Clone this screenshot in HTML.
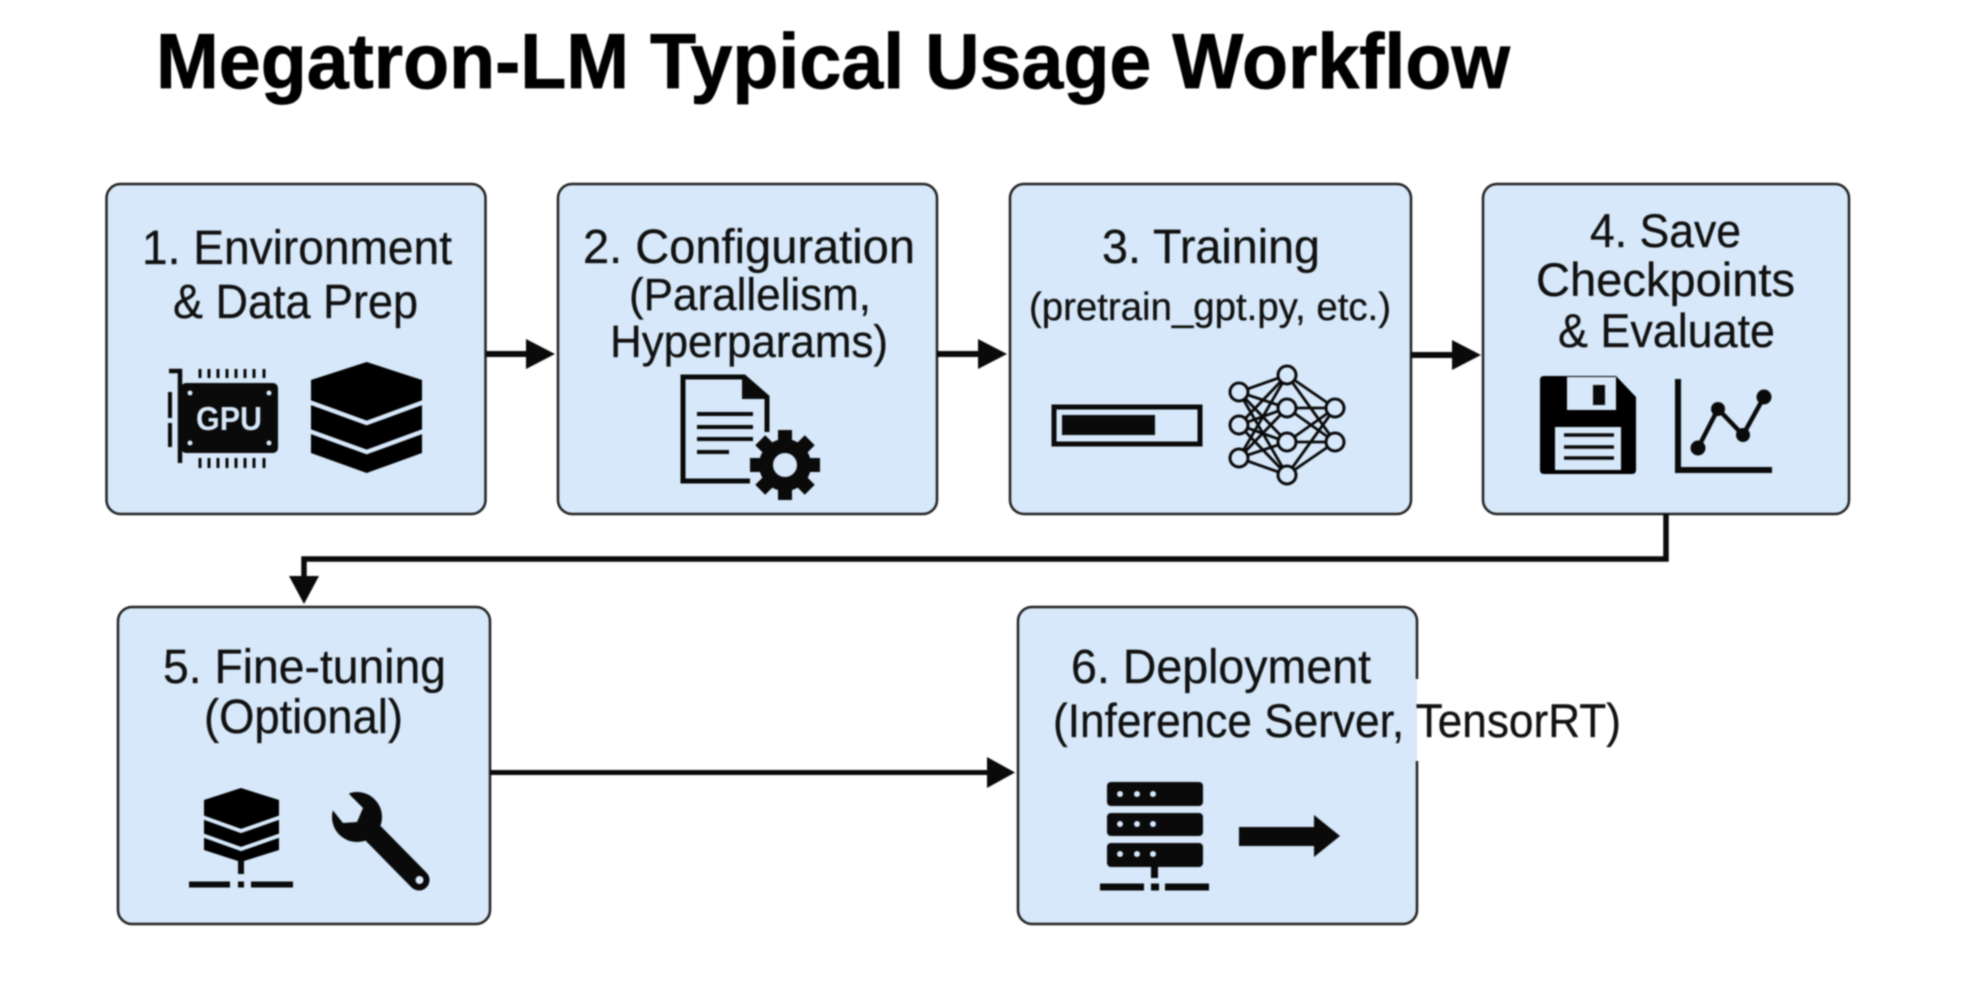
<!DOCTYPE html>
<html><head><meta charset="utf-8"><title>Megatron-LM Typical Usage Workflow</title>
<style>
html,body{margin:0;padding:0;background:#fff;width:1964px;height:984px;overflow:hidden}
svg{display:block}
text{font-family:"Liberation Sans",sans-serif;fill:#111}
.b{fill:#d6e8f9;stroke:#222;stroke-width:2.5}
.l{fill:none;stroke:#0a0a0a;stroke-linejoin:miter}
</style></head><body>
<svg xmlns="http://www.w3.org/2000/svg" width="1964" height="984" viewBox="0 0 1964 984" style="filter:blur(0.7px)">
<rect width="1964" height="984" fill="#fff"/>
<text x="156" y="88" font-size="78" font-weight="700" textLength="1354" lengthAdjust="spacingAndGlyphs" style="fill:#000;stroke:#000;stroke-width:0.8">Megatron-LM Typical Usage Workflow</text>

<!-- boxes -->
<rect class="b" x="106.5" y="184" width="379" height="330" rx="14"/>
<rect class="b" x="558" y="184" width="379" height="330" rx="14"/>
<rect class="b" x="1010" y="184" width="401" height="330" rx="14"/>
<rect class="b" x="1483" y="184" width="366" height="330" rx="14"/>
<rect class="b" x="118" y="607" width="372" height="317" rx="14"/>
<rect class="b" x="1018" y="607" width="399" height="317" rx="14"/>
<rect x="1416" y="679" width="4" height="82" fill="#fff"/>
<rect x="1410" y="679" width="7" height="82" fill="#d6e8f9"/>

<!-- connectors -->
<g fill="#0a0a0a">
<rect x="486" y="351" width="42" height="6"/><polygon points="526,339 555,354 526,369"/>
<rect x="937" y="351" width="43" height="6"/><polygon points="978,339 1007,354 978,369"/>
<rect x="1411" y="352" width="43" height="6"/><polygon points="1452,340 1481,355 1452,370"/>
<polyline class="l" stroke-width="5.500" points="1666,514 1666,559 304,559 304,580"/>
<polygon points="289,576 319,576 304,604"/>
<rect x="490" y="770" width="499" height="5"/><polygon points="987,757 1015,772.500 987,788"/>
</g>

<!-- labels -->
<g style="stroke:#111;stroke-width:0.3">
<text x="142" y="264" font-size="48" textLength="310" lengthAdjust="spacingAndGlyphs">1. Environment</text>
<text x="173" y="318" font-size="48" textLength="245" lengthAdjust="spacingAndGlyphs">&amp; Data Prep</text>
<text x="583" y="263" font-size="48" textLength="332" lengthAdjust="spacingAndGlyphs">2. Configuration</text>
<text x="629" y="310" font-size="45" textLength="242" lengthAdjust="spacingAndGlyphs">(Parallelism,</text>
<text x="610" y="357" font-size="45" textLength="278" lengthAdjust="spacingAndGlyphs">Hyperparams)</text>
<text x="1102" y="263" font-size="48" textLength="218" lengthAdjust="spacingAndGlyphs">3. Training</text>
<text x="1029" y="320" font-size="39" textLength="362" lengthAdjust="spacingAndGlyphs">(pretrain_gpt.py, etc.)</text>
<text x="1590" y="247" font-size="47" textLength="151" lengthAdjust="spacingAndGlyphs">4. Save</text>
<text x="1536" y="296" font-size="47" textLength="259" lengthAdjust="spacingAndGlyphs">Checkpoints</text>
<text x="1558" y="347" font-size="47" textLength="217" lengthAdjust="spacingAndGlyphs">&amp; Evaluate</text>
<text x="163" y="683" font-size="48" textLength="283" lengthAdjust="spacingAndGlyphs">5. Fine-tuning</text>
<text x="204" y="733" font-size="48" textLength="199" lengthAdjust="spacingAndGlyphs">(Optional)</text>
<text x="1071" y="683" font-size="48" textLength="300" lengthAdjust="spacingAndGlyphs">6. Deployment</text>
<text x="1053" y="737" font-size="47" textLength="568" lengthAdjust="spacingAndGlyphs">(Inference Server, TensorRT)</text>
</g>

<!-- GPU icon -->
<polyline class="l" stroke-width="4.500" points="169,371 180,371 180,463"/>
<rect x="168" y="392" width="4" height="26" fill="#0a0a0a"/>
<rect x="168" y="423" width="4" height="24" fill="#0a0a0a"/>
<rect x="181" y="383" width="97" height="70" rx="5" fill="#0a0a0a"/>
<g fill="#d6e8f9"><circle cx="190" cy="393" r="2.500"/><circle cx="269" cy="393" r="2.500"/><circle cx="190" cy="443" r="2.500"/><circle cx="269" cy="443" r="2.500"/></g>
<text x="196" y="430" font-size="33" font-weight="700" textLength="66" lengthAdjust="spacingAndGlyphs" style="fill:#d6e8f9">GPU</text>
<path d="M200 369v9M209 369v9M218 369v9M227 369v9M236 369v9M245 369v9M254 369v9M264 369v9M200 458v10M209 458v10M218 458v10M227 458v10M236 458v10M245 458v10M254 458v10M264 458v10" stroke="#0a0a0a" stroke-width="3" fill="none"/>

<!-- stack icon -->
<polygon points="366.700,362 422,380 422,453 366.700,473 311,453 311,380" fill="#000"/>
<polyline points="309,402 366.700,423 424,402" fill="none" stroke="#d6e8f9" stroke-width="4.500"/>
<polyline points="309,431 366.700,452 424,431" fill="none" stroke="#d6e8f9" stroke-width="4.500"/>

<!-- document + gear -->
<polyline class="l" stroke-width="5" points="750,481 683,481 683,377 744,377 767,397 767,432"/>
<polygon points="742,377 769,399 742,399" fill="#0a0a0a"/>
<path d="M697 414H753M697 427H753M697 439H753M697 452H729" stroke="#0a0a0a" stroke-width="4" fill="none"/>
<g transform="translate(785,465)" fill="#0a0a0a">
<circle r="26"/>
<rect x="-7" y="-35" width="14" height="70"/>
<rect x="-7" y="-35" width="14" height="70" transform="rotate(45)"/>
<rect x="-7" y="-35" width="14" height="70" transform="rotate(90)"/>
<rect x="-7" y="-35" width="14" height="70" transform="rotate(135)"/>
<circle r="12" fill="#d6e8f9"/>
</g>

<!-- progress bar -->
<rect x="1054" y="407" width="146" height="37" fill="none" stroke="#0a0a0a" stroke-width="5"/>
<rect x="1062" y="415" width="93" height="20" fill="#0a0a0a"/>

<!-- neural net -->
<g stroke="#0a0a0a" stroke-width="2.800" fill="none">
<path d="M1239 392L1287 375M1239 392L1287 408M1239 392L1287 442M1239 392L1287 475M1239 425L1287 375M1239 425L1287 408M1239 425L1287 442M1239 425L1287 475M1239 458L1287 375M1239 458L1287 408M1239 458L1287 442M1239 458L1287 475M1287 375L1335 408M1287 375L1335 442M1287 408L1335 408M1287 408L1335 442M1287 442L1335 408M1287 442L1335 442M1287 475L1335 408M1287 475L1335 442"/>
</g>
<g fill="#d6e8f9" stroke="#0a0a0a" stroke-width="3">
<circle cx="1239" cy="392" r="9"/><circle cx="1239" cy="425" r="9"/><circle cx="1239" cy="458" r="9"/>
<circle cx="1287" cy="375" r="9"/><circle cx="1287" cy="408" r="9"/><circle cx="1287" cy="442" r="9"/><circle cx="1287" cy="475" r="9"/>
<circle cx="1335" cy="408" r="9"/><circle cx="1335" cy="442" r="9"/>
</g>

<!-- floppy -->
<path d="M1544 376H1616L1636 397V470Q1636 474 1632 474H1544Q1540 474 1540 470V380Q1540 376 1544 376Z" fill="#000"/>
<rect x="1567" y="377" width="49" height="33" fill="#d6e8f9"/>
<rect x="1593" y="385" width="12" height="20" fill="#0a0a0a"/>
<rect x="1555" y="427" width="66" height="43" fill="#d6e8f9"/>
<path d="M1564 435H1614M1564 447H1614M1564 458H1614" stroke="#0a0a0a" stroke-width="3.500" fill="none"/>

<!-- chart -->
<polyline class="l" stroke-width="6" points="1678,379 1678,470 1772,470"/>
<polyline class="l" stroke-width="4.500" points="1698,448 1718,409 1743,435 1764,397"/>
<g fill="#0a0a0a"><circle cx="1698" cy="448" r="7.500"/><circle cx="1718" cy="409" r="7"/><circle cx="1743" cy="435" r="7"/><circle cx="1764" cy="397" r="7.500"/></g>

<!-- small db -->
<polygon points="241,788 279,800 279,850 241,862 204,850 204,800" fill="#000"/>
<polyline points="202,817 241,831 281,817" fill="none" stroke="#d6e8f9" stroke-width="4"/>
<polyline points="202,835 241,849 281,835" fill="none" stroke="#d6e8f9" stroke-width="4"/>
<rect x="238" y="860" width="6" height="14" fill="#0a0a0a"/>
<path d="M189 884.500H230M238 884.500H244M251 884.500H293" stroke="#0a0a0a" stroke-width="6" fill="none"/>

<!-- wrench -->
<circle cx="357" cy="817" r="25" fill="#0a0a0a"/>
<line x1="357" y1="817" x2="419" y2="880" stroke="#0a0a0a" stroke-width="21" stroke-linecap="round"/>
<polygon points="350,795 363,808 357,822 343,823 331,808 315,785 340,775" fill="#d6e8f9"/>
<circle cx="419.500" cy="880" r="4" fill="#d6e8f9"/>

<!-- server -->
<g fill="#0a0a0a">
<rect x="1107" y="782" width="96" height="24" rx="4"/>
<rect x="1107" y="813" width="96" height="23" rx="4"/>
<rect x="1107" y="843" width="96" height="24" rx="4"/>
<rect x="1151" y="866" width="7" height="12"/>
<rect x="1100" y="883.500" width="44" height="7"/><rect x="1151" y="883.500" width="8" height="7"/><rect x="1165" y="883.500" width="44" height="7"/>
<polygon points="1239,827 1314,827 1314,815 1340,836 1314,857 1314,846 1239,846"/>
</g>
<g fill="#d6e8f9">
<circle cx="1120" cy="794" r="3"/><circle cx="1137" cy="794" r="3"/><circle cx="1153" cy="794" r="3"/>
<circle cx="1120" cy="824" r="3"/><circle cx="1137" cy="824" r="3"/><circle cx="1153" cy="824" r="3"/>
<circle cx="1120" cy="854" r="3"/><circle cx="1137" cy="854" r="3"/><circle cx="1153" cy="854" r="3"/>
</g>
</svg>
</body></html>
